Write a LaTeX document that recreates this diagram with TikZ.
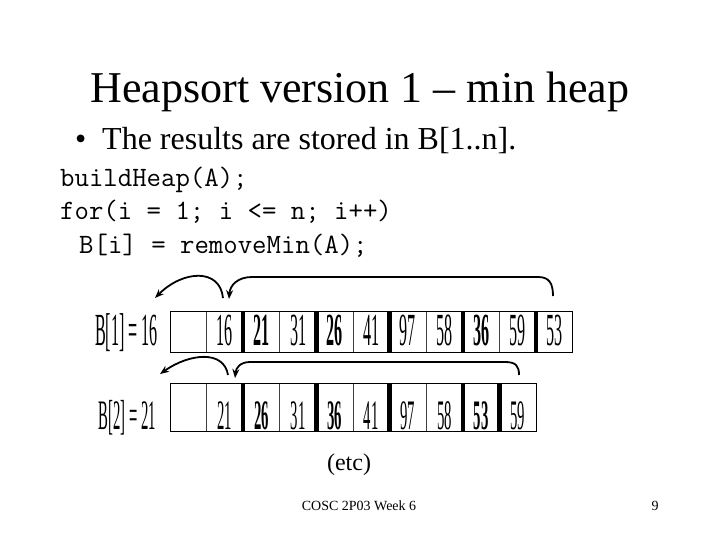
\documentclass[tikz,border=0pt]{standalone}
\usepackage{fontspec}
\setmainfont{Liberation Serif}
\usetikzlibrary{arrows.meta}
\tikzset{
  cellA/.style={draw=black!75, line width=0.8pt, minimum width=36.6pt, minimum height=41pt, inner sep=0pt, outer sep=0pt, anchor=west},
  cellB/.style={draw=black!75, line width=0.8pt, minimum width=36.6pt, minimum height=48pt, inner sep=0pt, outer sep=0pt, anchor=west},
  bar/.style={fill=black},
  curvearrow/.style={line width=1.8pt, -{Stealth[length=9pt,width=7pt]}},
  codeline/.style={anchor=base west, inner sep=0pt, font=\ttfamily\fontsize{28}{28}\selectfont},
}
\newcommand{\numA}[1]{\scalebox{0.35}[1]{\fontsize{46}{46}\selectfont #1}}
\newcommand{\numB}[1]{\scalebox{0.35}[1]{\fontsize{42}{42}\selectfont #1}}
\begin{document}
\begin{tikzpicture}[x=1pt,y=-1pt]
\useasboundingbox (0,0) rectangle (720,540);
% title
\node[anchor=base, inner sep=0pt, font=\fontsize{44}{44}\selectfont] (title) at (360,103) {Heapsort version 1 – min heap};
\node[anchor=base west, inner sep=0pt, font=\fontsize{32}{32}\selectfont] (bul) at (75,150) {•};
\node[anchor=base west, inner sep=0pt, font=\fontsize{32}{32}\selectfont] (btext) at (102,150) {The results are stored in B[1..n].};
% code
\node[codeline] (c1) at (60,187) {buildHeap(A);};
\node[codeline] (c2) at (60,220) {for(i = 1; i <= n; i++)};
\node[codeline] (c3) at (79,253) {B[i] = removeMin(A);};
% array 1
\foreach \v [count=\i] in {{},16,21,31,26,41,97,58,36,59,53} {
  \node[cellA] (a\i) at ({170+36.6*(\i-1)},331.5) {};
}
\draw[line width=1pt] (a1.north west) rectangle (a11.south east);
\foreach \i in {2,4,6,8,10} {
  \fill[bar] ([xshift=-2.2pt]a\i.north east) rectangle ([xshift=2.2pt]a\i.south east);
}
\foreach \v/\i in {16/2,31/4,41/6,97/7,58/8,59/10,53/11} {
  \node[anchor=base, inner sep=0pt] at (a\i.center |- 0,345) {\numA{\v}};
}
\foreach \v/\i in {21/3,26/5,36/9} {
  \node[anchor=base, inner sep=0pt] at (a\i.center |- 0,345) {\numA{\bfseries \v}};
}
\node[anchor=base east, inner sep=0pt] (la) at (158,345) {\numA{B[1] = 16}};
% array 2
\foreach \v [count=\i] in {{},21,26,31,36,41,97,58,53,59} {
  \node[cellB] (b\i) at ({170+36.6*(\i-1)},407) {};
}
\draw[line width=1pt] (b1.north west) rectangle (b10.south east);
\foreach \i in {2,4,6,8,9} {
  \fill[bar] ([xshift=-2.2pt]b\i.north east) rectangle ([xshift=2.2pt]b\i.south east);
}
\foreach \v/\i in {21/2,31/4,41/6,97/7,58/8,59/10} {
  \node[anchor=base, inner sep=0pt] at (b\i.center |- 0,429) {\numB{\v}};
}
\foreach \v/\i in {26/3,36/5,53/9} {
  \node[anchor=base, inner sep=0pt] at (b\i.center |- 0,429) {\numB{\bfseries \v}};
}
\node[anchor=base east, inner sep=0pt] (lb) at (156,429) {\numB{B[2] = 21}};
% arrows array 1
\coordinate (p1s) at (223,298);
\coordinate (p1e) at (155,298);
\draw[curvearrow] (p1s) .. controls (220,268) and (183,270) .. (p1e);
\coordinate (q1s) at (553,296);
\coordinate (q1e) at (229,299);
\draw[curvearrow] (q1s) .. controls (553,283) and (549,277) .. (538,277) -- (252,277) .. controls (238,277) and (230,285) .. (q1e);
% arrows array 2
\coordinate (p2s) at (228,375);
\coordinate (p2e) at (160,374);
\draw[curvearrow] (p2s) .. controls (224,350) and (190,353) .. (p2e);
\coordinate (q2s) at (519,375);
\coordinate (q2e) at (235,378);
\draw[curvearrow] (q2s) .. controls (519,366) and (516,362) .. (505,362) -- (250,362) .. controls (240,362) and (236,368) .. (q2e);
% footer
\node[anchor=base, inner sep=0pt, font=\fontsize{24}{24}\selectfont] (etc) at (349,470) {(etc)};
\node[anchor=base, inner sep=0pt, font=\fontsize{14}{14}\selectfont] (foot) at (359,510) {COSC 2P03 Week 6};
\node[anchor=base, inner sep=0pt, font=\fontsize{14}{14}\selectfont] (pg) at (655,510) {9};
\end{tikzpicture}
\end{document}
